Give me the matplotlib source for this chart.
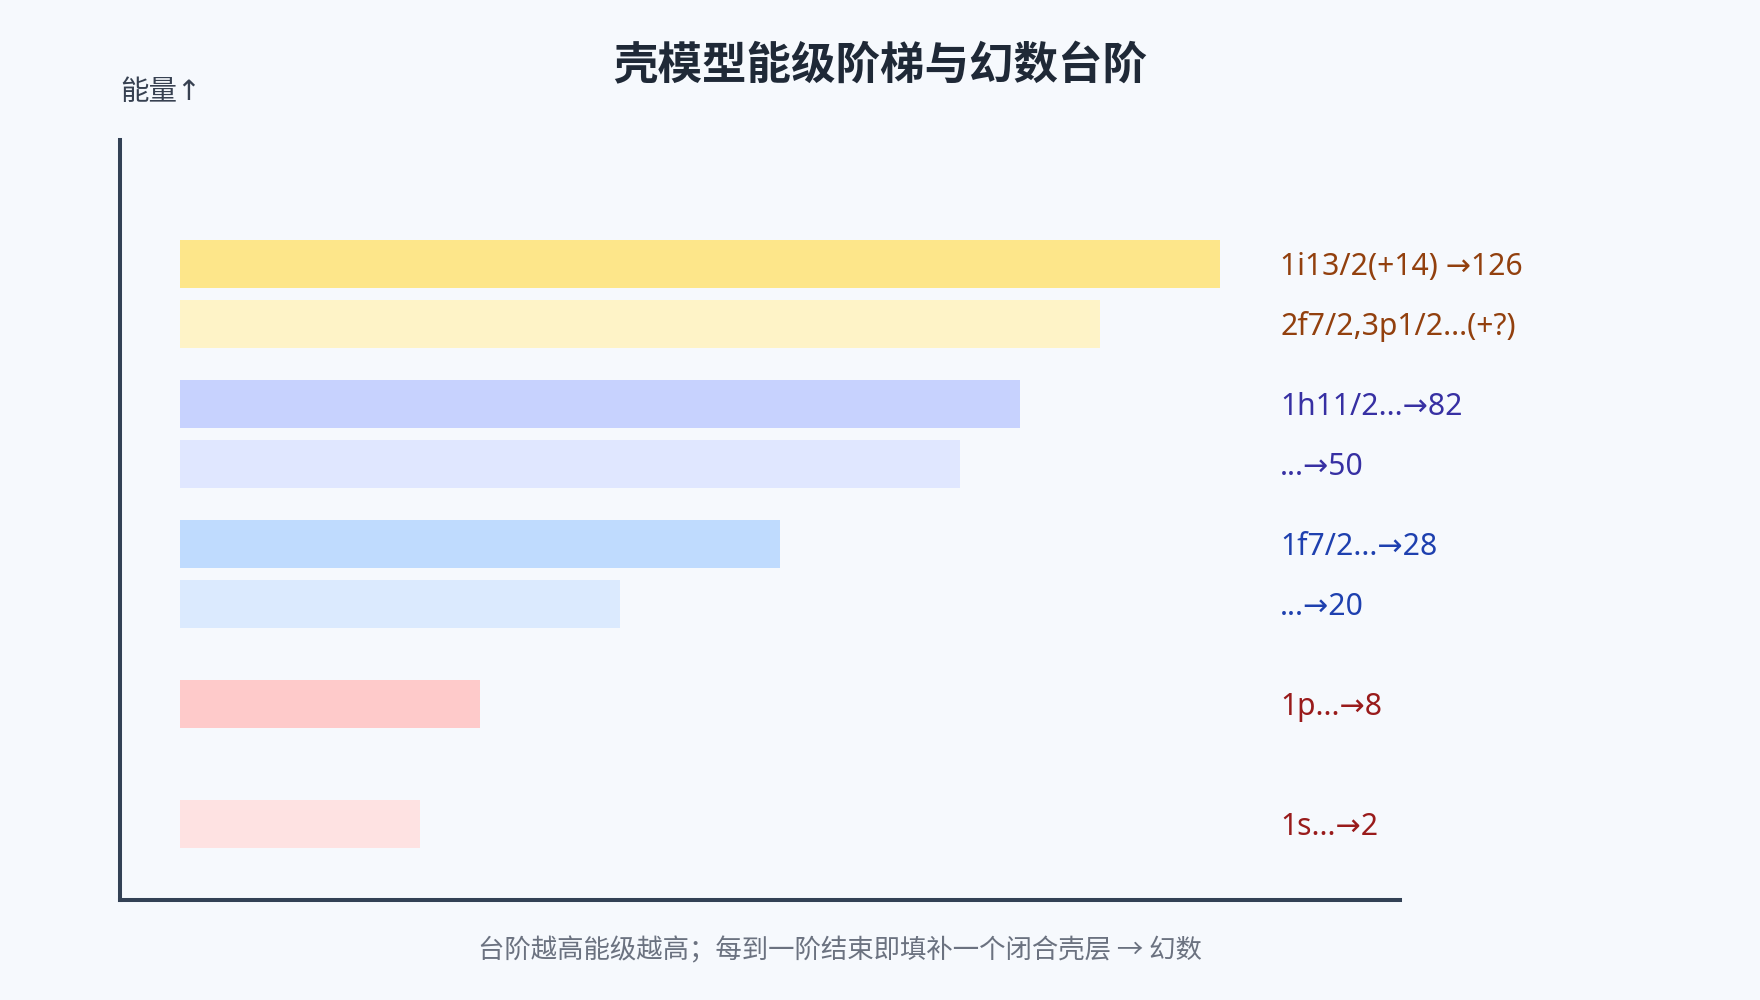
import matplotlib

matplotlib.use("Agg")
import matplotlib.pyplot as plt

plt.rcParams["font.family"] = ["Noto Sans CJK SC", "DejaVu Sans"]
LATIN = ["Noto Sans", "DejaVu Sans", "Noto Sans CJK SC"]

# levels listed bottom -> top
LEVEL_LABELS = ["1s...→2", "1p...→8", "...→20", "1f7/2...→28", "...→50", "1h11/2...→82",
                "2f7/2,3p1/2...(+?)", "1i13/2(+14) →126"]
LEVEL_ENERGY = [76, 196, 296, 356, 436, 496, 576, 636]
LEVEL_WIDTH = [240, 300, 440, 600, 780, 840, 920, 1040]
BAR_COLORS = ["#FEE2E2", "#FECACA", "#DBEAFE", "#BFDBFE",
              "#E0E7FF", "#C7D2FE", "#FEF3C7", "#FDE68A"]
TEXT_COLORS = ["#991B1B", "#991B1B", "#1E40AF", "#1E40AF",
               "#3730A3", "#3730A3", "#92400E", "#92400E"]

BG = "#F6F9FD"
AXIS = "#334155"

fig = plt.figure(figsize=(17.6, 10), dpi=100, facecolor=BG)
ax = fig.add_axes([120 / 1760, 0.1, 1280 / 1760, 0.76])
ax.set_facecolor(BG)

ax.barh(LEVEL_ENERGY, LEVEL_WIDTH, height=48, left=60, color=BAR_COLORS, linewidth=0)
for e, lab, c in zip(LEVEL_ENERGY, LEVEL_LABELS, TEXT_COLORS):
    ax.text(1160, e - 3, lab, color=c, fontsize=21.7, va="center", ha="left", family=LATIN)

ax.set_xlim(0, 1280)
ax.set_ylim(0, 760)
ax.set_xticks([])
ax.set_yticks([])
for s in ["top", "right"]:
    ax.spines[s].set_visible(False)
for s in ["left", "bottom"]:
    ax.spines[s].set_color(AXIS)
    ax.spines[s].set_linewidth(2.9)

fig.text(0.5, 0.934, "壳模型能级阶梯与幻数台阶", ha="center", va="center",
         fontsize=32, fontweight="bold", color="#1F2937")
fig.text(120 / 1760, 0.907, "能量↑", ha="left", va="center", fontsize=20.5,
         color="#374151", family=LATIN)
fig.text(840 / 1760, 0.049, "台阶越高能级越高；每到一阶结束即填补一个闭合壳层 → 幻数",
         ha="center", va="center", fontsize=19, color="#6B7280")

fig.savefig("out.png", dpi=100, facecolor=BG)
